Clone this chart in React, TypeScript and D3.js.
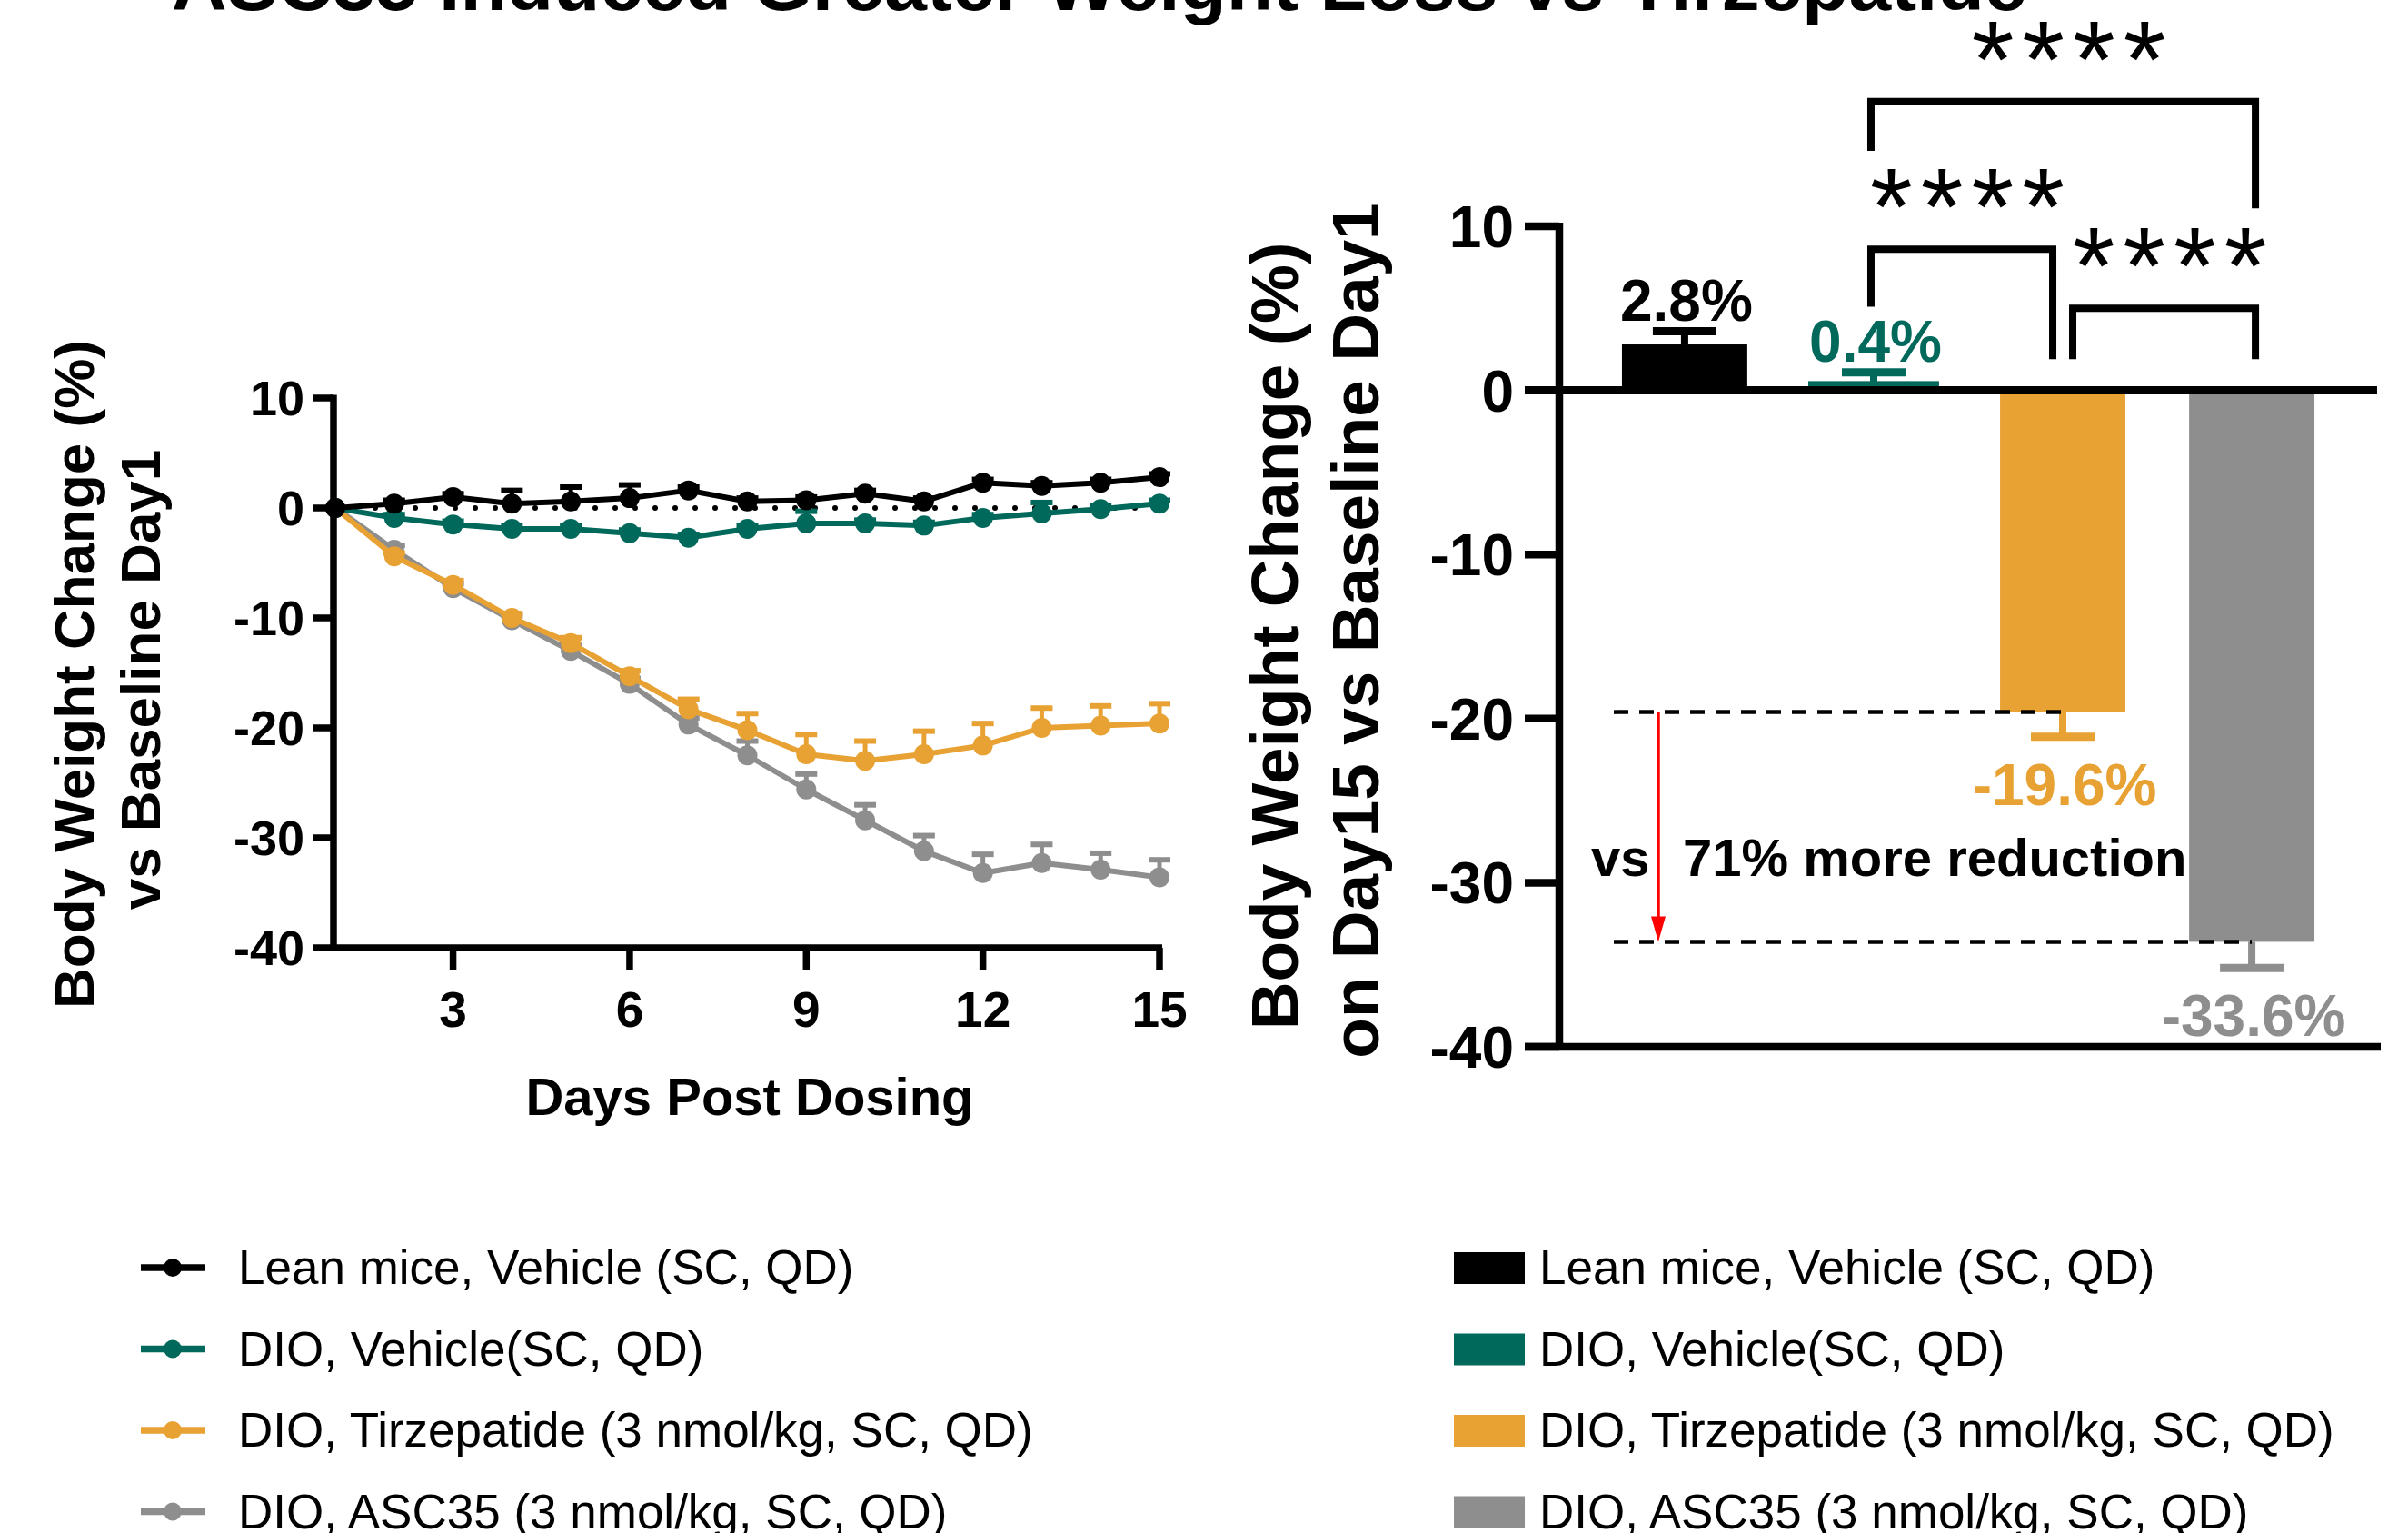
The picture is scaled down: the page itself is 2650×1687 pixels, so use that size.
import * as d3 from "d3";

// ---- data ----
const days = [1, 2, 3, 4, 5, 6, 7, 8, 9, 10, 11, 12, 13, 14, 15];
const dayTicks = [3, 6, 9, 12, 15];
const pctTicks = [10, 0, -10, -20, -30, -40];

const groups = [
  "Lean mice, Vehicle (SC, QD)",
  "DIO, Vehicle(SC, QD)",
  "DIO, Tirzepatide (3 nmol/kg, SC, QD)",
  "DIO, ASC35 (3 nmol/kg, SC, QD)",
];
const colors = ["#000000", "#00695B", "#E8A133", "#8E8E8E"];

const leanMean = [0, 0.4, 1.0, 0.4, 0.6, 0.9, 1.6, 0.6, 0.7, 1.3, 0.6, 2.3, 2.0, 2.3, 2.8];
const leanSem = [0, 0.3, 0.3, 1.2, 1.3, 1.2, 0.3, 0.3, 0.3, 0.3, 0.3, 0.3, 0.3, 0.3, 0.3];
const dioVehMean = [0, -0.9, -1.5, -1.9, -1.9, -2.3, -2.7, -1.9, -1.4, -1.4, -1.6, -0.9, -0.5, -0.1, 0.4];
const dioVehSem = [0, 0.3, 0.3, 0.3, 0.3, 0.3, 0.3, 0.3, 1.1, 0.3, 0.3, 0.3, 1.0, 0.3, 0.3];
const tirzMean = [0, -4.4, -7.0, -10.0, -12.3, -15.3, -18.3, -20.2, -22.4, -23.0, -22.4, -21.6, -20.0, -19.8, -19.6];
const tirzSem = [0, 0.3, 0.4, 0.4, 0.5, 0.5, 0.9, 1.5, 1.8, 1.8, 2.1, 2.0, 1.8, 1.8, 1.8];
const ascMean = [0, -3.8, -7.3, -10.2, -13.0, -16.0, -19.7, -22.5, -25.6, -28.4, -31.2, -33.2, -32.3, -32.9, -33.6];
const ascSem = [0, 0.4, 0.4, 0.4, 0.5, 0.5, 0.6, 1.3, 1.4, 1.4, 1.4, 1.7, 1.7, 1.5, 1.6];

const seriesMeans = [leanMean, dioVehMean, tirzMean, ascMean];
const seriesSems = [leanSem, dioVehSem, tirzSem, ascSem];

const day15Mean = [2.8, 0.4, -19.6, -33.6];
const day15Sem = [0.8, 0.7, 1.5, 1.6];
const day15Labels = ["2.8%", "0.4%", "-19.6%", "-33.6%"];

// significance brackets: [from group, to group, bar level, left leg end, right leg end]
const brackets: [number, number, number, number, number][] = [
  [1, 3, 17.6, 14.6, 11.1],
  [1, 2, 8.6, 5.1, 1.9],
  [2, 3, 5.0, 1.9, 1.9],
];
const starLabel = "****";

const FONT = "'Liberation Sans', Arial, Helvetica, sans-serif";

export default function App() {
  // left panel scales
  const x = d3.scaleLinear().domain([1, 15]).range([369, 1276]);
  const y = d3.scaleLinear().domain([-40, 10]).range([1043, 438]);

  // right panel scales
  const xb = d3
    .scaleBand<number>()
    .domain([0, 1, 2, 3])
    .range([1750, 2582])
    .paddingInner(0.337)
    .paddingOuter(0.168);
  const yb = d3.scaleLinear().domain([-40, 10]).range([1152, 249]);
  const bw = xb.bandwidth();
  const cx = (i: number) => (xb(i) as number) + bw / 2;

  const line = d3
    .line<number>()
    .x((_, i) => x(days[i]))
    .y((d) => y(d));

  const drawOrder = [3, 2, 1, 0];
  const starSize = 120;
  const starGap = 9;

  return (
    <svg
      width={2650}
      height={1687}
      style={{ position: "absolute", left: 0, top: 0, background: "#fff" }}
      fontFamily={FONT}
    >
      {/* title (cut at the top edge in the source) */}
      <text x={189} y={11} fontSize={84} fontWeight="bold">
        ASC35 Induced Greater Weight Loss vs Tirzepatide
      </text>

      {/* ================= left panel ================= */}
      <line
        x1={x(1)}
        x2={x(15)}
        y1={y(0)}
        y2={y(0)}
        stroke="#000"
        strokeWidth={6}
        strokeDasharray="0 22"
        strokeLinecap="round"
      />

      {drawOrder.map((g) => {
        const m = seriesMeans[g];
        const s = seriesSems[g];
        const c = colors[g];
        return (
          <g key={g}>
            {m.map((v, i) =>
              s[i] > 0 ? (
                <g key={i}>
                  <line x1={x(days[i])} x2={x(days[i])} y1={y(v)} y2={y(v + s[i])} stroke={c} strokeWidth={5} />
                  <line x1={x(days[i]) - 12} x2={x(days[i]) + 12} y1={y(v + s[i])} y2={y(v + s[i])} stroke={c} strokeWidth={6} />
                </g>
              ) : null
            )}
            <path d={line(m) || ""} fill="none" stroke={c} strokeWidth={6} strokeLinejoin="round" />
            {m.map((v, i) => (
              <circle key={i} cx={x(days[i])} cy={y(v)} r={11} fill={c} />
            ))}
          </g>
        );
      })}

      {/* left axes */}
      <line x1={x(1) - 2} x2={x(1) - 2} y1={y(10) - 3.5} y2={y(-40) + 3.5} stroke="#000" strokeWidth={7.5} />
      <line x1={x(1) - 2} x2={x(15) + 3} y1={y(-40)} y2={y(-40)} stroke="#000" strokeWidth={7.5} />
      {pctTicks.map((t) => (
        <g key={t}>
          <line x1={345} x2={x(1) - 2} y1={y(t)} y2={y(t)} stroke="#000" strokeWidth={7.5} />
          <text x={335} y={y(t)} dy="0.35em" textAnchor="end" fontSize={54} fontWeight="bold">
            {t}
          </text>
        </g>
      ))}
      {dayTicks.map((t) => (
        <g key={t}>
          <line x1={x(t)} x2={x(t)} y1={y(-40)} y2={y(-40) + 24} stroke="#000" strokeWidth={7.5} />
          <text x={x(t)} y={1130} textAnchor="middle" fontSize={55} fontWeight="bold">
            {t}
          </text>
        </g>
      ))}
      <text x={825} y={1227} textAnchor="middle" fontSize={58} fontWeight="bold">
        Days Post Dosing
      </text>
      <text transform="translate(103,742) rotate(-90)" textAnchor="middle" fontSize={62} fontWeight="bold">
        Body Weight Change (%)
      </text>
      <text transform="translate(176,748) rotate(-90)" textAnchor="middle" fontSize={62} fontWeight="bold">
        vs Baseline Day1
      </text>

      {/* ================= right panel ================= */}
      {day15Mean.map((v, i) => (
        <rect
          key={i}
          x={xb(i)}
          y={yb(Math.max(0, v))}
          width={bw}
          height={Math.abs(yb(v) - yb(0))}
          fill={colors[i]}
          stroke={i === 1 ? colors[i] : "none"}
          strokeWidth={i === 1 ? 6 : 0}
        />
      ))}
      {day15Mean.map((v, i) => {
        const e = v >= 0 ? v + day15Sem[i] : v - day15Sem[i];
        return (
          <g key={i}>
            <line x1={cx(i)} x2={cx(i)} y1={yb(v)} y2={yb(e)} stroke={colors[i]} strokeWidth={8} />
            <line x1={cx(i) - 35} x2={cx(i) + 35} y1={yb(e)} y2={yb(e)} stroke={colors[i]} strokeWidth={9} />
          </g>
        );
      })}

      {/* zero line & axes */}
      <line x1={1678} x2={2616} y1={yb(0)} y2={yb(0)} stroke="#000" strokeWidth={9} />
      <line x1={1716} x2={1716} y1={yb(10) - 4} y2={yb(-40) + 4} stroke="#000" strokeWidth={8.5} />
      <line x1={1678} x2={2620} y1={yb(-40)} y2={yb(-40)} stroke="#000" strokeWidth={8.5} />
      {pctTicks.map((t) => (
        <g key={t}>
          <line x1={1678} x2={1716} y1={yb(t)} y2={yb(t)} stroke="#000" strokeWidth={8.5} />
          <text x={1666} y={yb(t)} dy="0.36em" textAnchor="end" fontSize={64} fontWeight="bold">
            {t}
          </text>
        </g>
      ))}
      <text transform="translate(1428,700) rotate(-90)" textAnchor="middle" fontSize={73} fontWeight="bold">
        Body Weight Change (%)
      </text>
      <text transform="translate(1517,694) rotate(-90)" textAnchor="middle" fontSize={73} fontWeight="bold">
        on Day15 vs Baseline Day1
      </text>

      {/* value labels */}
      {day15Mean.map((v, i) => {
        const e = v >= 0 ? v + day15Sem[i] : v - day15Sem[i];
        const ly = v >= 0 ? yb(e) - 12 : yb(e) + 75;
        return (
          <text key={i} x={cx(i) + 2} y={ly} textAnchor="middle" fontSize={64} fontWeight="bold" fill={colors[i]}>
            {day15Labels[i]}
          </text>
        );
      })}

      {/* difference annotation */}
      <line x1={1776} x2={cx(2)} y1={yb(day15Mean[2])} y2={yb(day15Mean[2])} stroke="#000" strokeWidth={4.5} strokeDasharray="16 12" />
      <line x1={1776} x2={cx(3)} y1={yb(day15Mean[3])} y2={yb(day15Mean[3])} stroke="#000" strokeWidth={4.5} strokeDasharray="16 12" />
      <line x1={1825} x2={1825} y1={yb(day15Mean[2])} y2={yb(day15Mean[3]) - 26} stroke="#FF0000" strokeWidth={3.5} />
      <path
        d={`M${1817},${yb(day15Mean[3]) - 28} L${1833},${yb(day15Mean[3]) - 28} L${1825},${yb(day15Mean[3])} Z`}
        fill="#FF0000"
      />
      <text x={1751} y={964} fontSize={58} fontWeight="bold">
        vs
      </text>
      <text x={1852} y={964} fontSize={58} fontWeight="bold">
        71% more reduction
      </text>

      {/* significance brackets */}
      {brackets.map(([a, b, lvl, l1, l2], k) => {
        const adj = b - a === 1;
        const xa = cx(a) - 3 + (adj && a === 2 ? 14 : 0);
        const xe = cx(b) + 4 - (adj && b === 2 ? 15 : 0);
        return (
          <g key={k}>
            <path
              d={`M${xa},${yb(l1)} L${xa},${yb(lvl)} L${xe},${yb(lvl)} L${xe},${yb(l2)}`}
              fill="none"
              stroke="#000"
              strokeWidth={8}
            />
            <text
              x={(xa + xe) / 2 + 6 + starGap / 2}
              y={yb(lvl) - 5}
              textAnchor="middle"
              fontSize={starSize}
              letterSpacing={starGap}
            >
              {starLabel}
            </text>
          </g>
        );
      })}

      {/* legends */}
      {groups.map((gname, i) => {
        const ly = 1395 + i * 89.5;
        return (
          <g key={gname}>
            <line x1={155} x2={226} y1={ly} y2={ly} stroke={colors[i]} strokeWidth={7.5} />
            <circle cx={190} cy={ly} r={10} fill={colors[i]} />
            <text x={262} y={ly + 18} fontSize={53}>
              {gname}
            </text>
            <rect x={1600} y={ly - 17} width={78} height={35} fill={colors[i]} />
            <text x={1694} y={ly + 18} fontSize={53}>
              {gname}
            </text>
          </g>
        );
      })}
    </svg>
  );
}
